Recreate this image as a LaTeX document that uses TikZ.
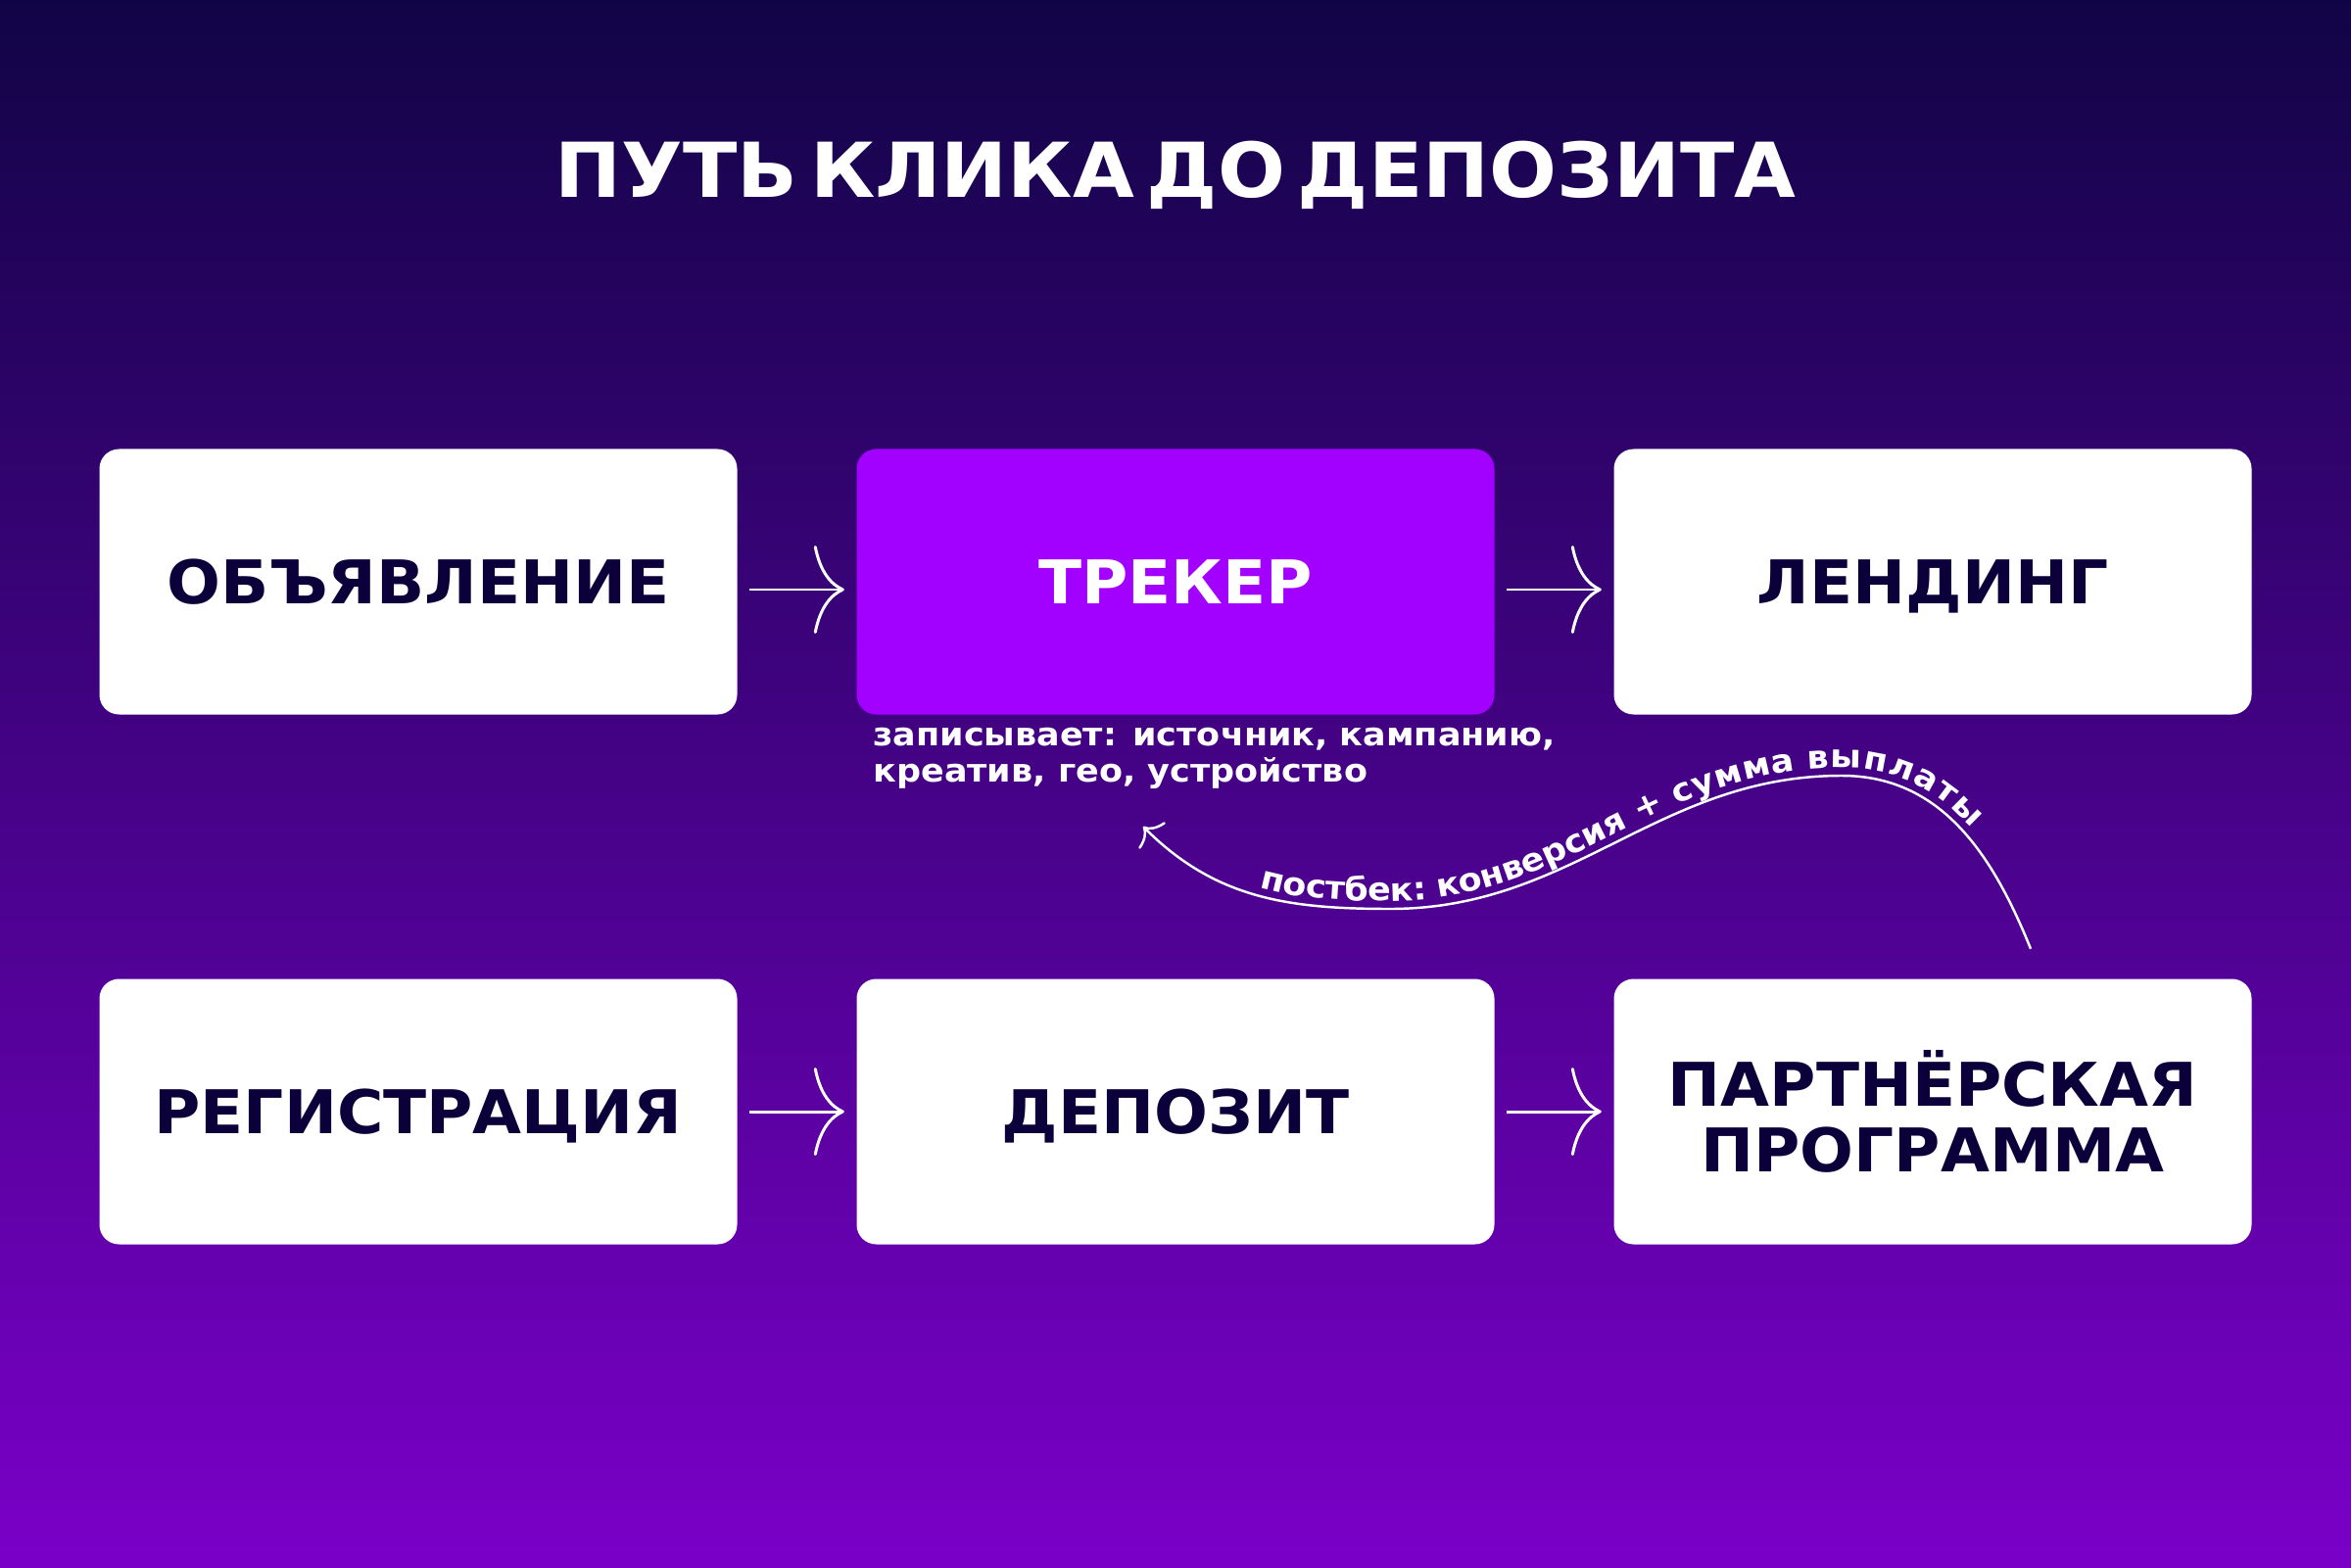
\documentclass[tikz,border=0pt]{standalone}
\usepackage{fontspec}
\setmainfont{DejaVu Sans}
\newfontfamily\heavyfont{DejaVu Sans Bold}[FakeStretch=1.05]
\newfontfamily\titlefont{DejaVu Sans Bold}[FakeStretch=1.05,WordSpace=0.45]
\newfontfamily\notefont{DejaVu Sans Bold}[FakeStretch=1.07]
\usetikzlibrary{arrows.meta,decorations.text}
\definecolor{bgtop}{RGB}{17,4,70}
\definecolor{bgbot}{RGB}{122,0,200}
\definecolor{ink}{RGB}{11,0,58}
\definecolor{trk}{RGB}{162,0,255}
\tikzset{
  stagebase/.style={fill=white,rounded corners=0.2cm,minimum width=6.51cm,minimum height=2.71cm,
    text=ink,align=center,font=\heavyfont\fontsize{17.5}{19}\selectfont},
  stage/.style={stagebase,text height=12.8pt,text depth=0pt},
  flow/.style={white,line width=0.85pt,-{Computer Modern Rightarrow[length=0.31cm,width=0.9cm]},
    shorten <=0.12cm,shorten >=0.12cm},
}
\begin{document}
\begin{tikzpicture}
\useasboundingbox (0,0) rectangle (24,-16);
\shade[top color=bgtop,bottom color=bgbot] (0,0) rectangle (24,-16);
\node[anchor=base,text=white,font=\titlefont\fontsize{22}{26}\selectfont] (title) at (12,-2.02) {ПУТЬ КЛИКА ДО ДЕПОЗИТА};
% first row
\node[stage] (ad) at (4.27,-5.94) {ОБЪЯВЛЕНИЕ};
\node[stage,fill=trk,text=white] (trk) at (12,-5.94) {ТРЕКЕР};
\node[stage] (land) at (19.73,-5.94) {ЛЕНДИНГ};
\draw[flow] ([yshift=-.08cm]ad.east) -- ([yshift=-.08cm]trk.west);
\draw[flow] ([yshift=-.08cm]trk.east) -- ([yshift=-.08cm]land.west);
\node[anchor=north west,align=left,inner sep=0pt,text=white,font=\notefont\fontsize{9.3}{10.5}\selectfont] (note)
  at ([xshift=.17cm,yshift=-.12cm]trk.south west) {записывает: источник, кампанию,\\креатив, гео, устройство};
% second row
\node[stage] (reg) at (4.27,-11.35) {РЕГИСТРАЦИЯ};
\node[stage] (dep) at (12,-11.35) {ДЕПОЗИТ};
\node[stagebase] (pp) at (19.73,-11.35) {ПАРТНЁРСКАЯ\\ПРОГРАММА};
\draw[flow] (reg) -- (dep);
\draw[flow] (dep) -- (pp);
% postback
\coordinate (ppin) at ([xshift=1cm,yshift=.3cm]pp.north);
\coordinate (back) at (11.67,-8.44);
\coordinate (dip) at (14.19,-9.28);
\coordinate (crest) at (18.8,-7.92);
\draw[white,line width=0.7pt,-{Computer Modern Rightarrow[length=0.14cm,width=0.38cm]}]
  (ppin) to[out=112,in=0] (crest) to[out=180,in=0] (dip) to[out=180,in=-45] (back);
\path[decorate,decoration={text along path,text color=white,raise=0.08cm,
    text={|\notefont\fontsize{9.3}{11}\selectfont|постбек: конверсия + сумма выплаты},
    text align={left indent=1.38cm}}]
  (back) to[out=-45,in=180] (dip) to[out=0,in=180] (crest) to[out=0,in=112] (ppin);
\end{tikzpicture}
\end{document}
